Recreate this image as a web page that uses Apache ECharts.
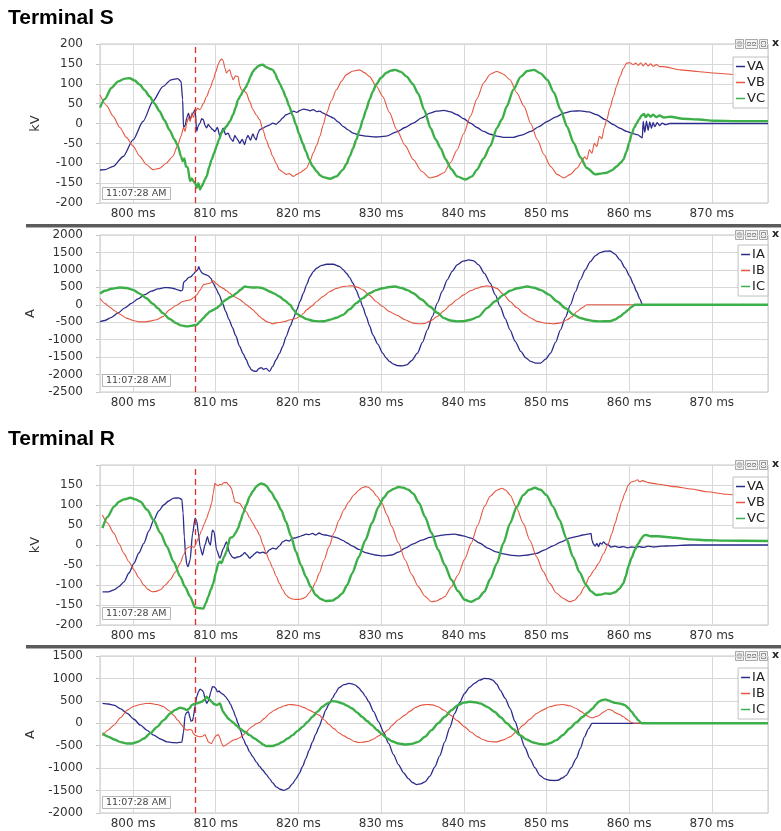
<!DOCTYPE html>
<html><head><meta charset="utf-8">
<script src="https://cdn.jsdelivr.net/npm/echarts@6/dist/echarts.min.js"></script>
<style>html,body{margin:0;padding:0;background:#fff}#c{width:781px;height:831px}</style>
</head><body><div id="c"></div>
<script>
const panelTitles = ['Terminal S', 'Terminal R'];
const timestamp = '11:07:28 AM';
const faultMs = 807.5;
const timeRange = [796, 876.8];
const vNames = ['VA', 'VB', 'VC'];
const iNames = ['IA', 'IB', 'IC'];

// Terminal S voltages (kV) [ms, value]
const S_VA = [[796.0,-117],[796.6,-116],[797.6,-108],[798.8,-83],[800.0,-41],[801.2,5],[802.4,56],[803.6,93],[804.6,110],[805.4,113],[805.8,106],[806.0,60],[806.1,-10],[806.3,-5],[806.5,15],[806.7,26],[806.9,10],[807.1,20],[807.3,28],[807.5,35],[807.7,-20],[807.9,-5],[808.1,1],[808.3,12],[808.5,10],[808.7,-5],[808.9,-11],[809.1,-2],[809.3,-8],[809.6,-15],[809.9,-20],[810.2,-10],[810.5,-32],[810.7,-20],[810.9,-12],[811.2,-28],[811.5,-24],[811.8,-38],[812.1,-45],[812.3,-30],[812.5,-36],[812.7,-42],[812.9,-50],[813.2,-40],[813.5,-53],[813.7,-38],[813.9,-30],[814.2,-42],[814.5,-26],[814.7,-36],[814.9,-41],[815.1,-25],[815.3,-16],[815.7,-12],[816.1,-7],[816.5,-4],[816.9,1],[817.3,-2],[817.7,5],[818.1,14],[818.5,22],[819.0,26],[819.4,31],[819.8,28],[820.2,33],[820.6,36],[821.0,35],[821.4,32],[821.8,35],[822.2,30],[822.6,31],[823.0,26],[823.4,22],[823.8,18],[824.2,14],[824.8,4],[825.4,-7],[826.0,-16],[826.6,-24],[827.4,-29],[828.2,-32],[829.4,-34],[830.6,-32],[831.9,-21],[832.9,-10],[833.9,1],[834.9,14],[835.9,26],[836.7,31],[837.6,33],[838.4,29],[839.2,22],[840.0,12],[840.8,1],[841.6,-10],[842.4,-20],[843.2,-27],[844.0,-32],[845.0,-35],[846.0,-35],[847.0,-29],[848.1,-20],[849.1,-8],[850.1,5],[851.1,16],[852.1,26],[853.1,31],[854.1,32],[855.1,29],[856.1,22],[857.1,10],[858.1,-3],[858.9,-12],[859.7,-20],[860.4,-25],[861.0,-28],[861.6,-36],[861.7,5],[861.9,-22],[862.1,6],[862.3,-17],[862.5,4],[862.7,-12],[862.9,3],[863.1,-8],[863.4,2],[863.7,-5],[864.0,1],[864.4,-3],[864.9,0],[870.0,0],[876.8,0]];
const S_VB = [[796.0,72],[796.8,45],[797.6,18],[798.4,-10],[799.2,-35],[800.0,-57],[800.8,-82],[801.6,-103],[802.4,-116],[803.2,-113],[804.0,-100],[804.8,-83],[805.4,-55],[805.8,-32],[806.1,-10],[806.3,-20],[806.5,1],[806.7,15],[806.9,5],[807.1,26],[807.3,15],[807.5,30],[807.8,38],[808.1,35],[808.5,50],[808.9,68],[809.3,88],[809.7,110],[810.0,130],[810.3,148],[810.5,158],[810.7,162],[810.9,158],[811.1,140],[811.3,127],[811.5,132],[811.7,135],[811.9,120],[812.1,110],[812.4,120],[812.7,118],[812.9,95],[813.1,85],[813.4,82],[813.7,77],[814.1,55],[814.5,35],[814.9,22],[815.3,10],[815.7,-15],[816.1,-41],[816.5,-62],[816.9,-83],[817.3,-100],[817.7,-116],[818.1,-122],[818.5,-128],[818.9,-126],[819.4,-133],[819.8,-128],[820.2,-124],[820.6,-118],[821.0,-112],[821.4,-95],[821.8,-74],[822.2,-55],[822.6,-32],[823.0,-3],[823.4,26],[824.0,58],[824.6,85],[825.2,106],[825.8,123],[826.6,132],[827.4,135],[828.0,128],[828.6,118],[829.4,95],[830.2,68],[831.0,28],[831.9,-16],[832.9,-55],[833.9,-91],[834.9,-120],[835.9,-137],[836.7,-133],[837.6,-124],[838.4,-98],[839.2,-66],[840.0,-25],[840.8,18],[841.6,62],[842.4,102],[843.2,124],[844.0,131],[844.8,124],[845.6,110],[846.4,78],[847.3,43],[848.1,0],[848.9,-41],[849.7,-78],[850.5,-108],[851.3,-128],[852.1,-137],[852.9,-128],[853.7,-112],[854.3,-95],[854.6,-84],[854.9,-90],[855.2,-66],[855.5,-75],[855.8,-50],[856.1,-58],[856.4,-32],[856.7,-38],[857.0,-10],[857.3,10],[857.7,40],[858.1,68],[858.5,95],[858.9,118],[859.3,138],[859.7,152],[860.1,153],[860.5,148],[860.8,152],[861.1,146],[861.4,153],[861.7,145],[862.0,152],[862.3,145],[862.6,150],[862.9,144],[863.3,148],[863.7,143],[864.2,143],[866.2,135],[868.2,131],[870.2,127],[872.7,123],[876.8,118]];
const S_VC = [[796.0,40],[796.6,62],[797.4,90],[798.2,106],[799.0,113],[799.6,114],[800.2,108],[800.8,98],[801.4,84],[802.0,68],[802.6,50],[803.2,31],[803.8,8],[804.4,-16],[805.0,-40],[805.4,-55],[805.8,-83],[806.0,-95],[806.2,-88],[806.4,-108],[806.6,-110],[806.9,-145],[807.1,-138],[807.3,-145],[807.5,-150],[807.7,-162],[807.9,-150],[808.1,-166],[808.3,-158],[808.5,-150],[808.7,-140],[808.9,-133],[809.2,-110],[809.5,-91],[809.8,-75],[810.1,-57],[810.4,-40],[810.7,-24],[811.0,-15],[811.3,-7],[811.7,5],[812.1,22],[812.4,40],[812.7,60],[813.0,70],[813.3,81],[813.6,90],[813.9,102],[814.2,118],[814.5,131],[814.8,138],[815.1,144],[815.4,147],[815.7,148],[816.0,143],[816.3,140],[816.6,137],[816.9,135],[817.2,125],[817.5,110],[817.8,98],[818.1,85],[818.5,65],[818.9,43],[819.3,20],[819.7,-3],[820.1,-27],[820.5,-49],[820.9,-70],[821.3,-91],[821.7,-107],[822.2,-120],[822.6,-130],[823.0,-135],[823.8,-139],[824.6,-133],[825.4,-116],[825.8,-102],[826.2,-83],[826.6,-63],[827.0,-41],[827.4,-16],[827.8,10],[828.2,35],[828.6,60],[829.0,80],[829.4,98],[830.0,115],[830.6,127],[831.2,133],[831.7,135],[832.4,130],[833.1,118],[833.8,100],[834.5,75],[835.2,35],[836.0,-12],[836.6,-40],[837.2,-62],[837.8,-90],[838.5,-115],[839.2,-133],[840.2,-141],[841.0,-133],[841.6,-116],[842.4,-88],[843.2,-57],[844.0,-12],[844.6,10],[845.2,43],[846.0,85],[846.9,118],[847.7,132],[848.5,135],[849.3,126],[850.1,110],[850.9,78],[851.7,35],[852.5,-8],[853.3,-49],[854.1,-85],[854.9,-112],[855.9,-128],[856.6,-126],[857.3,-124],[857.9,-118],[858.5,-108],[859.0,-98],[859.3,-91],[859.7,-70],[860.0,-49],[860.3,-28],[860.6,-11],[860.9,0],[861.2,10],[861.5,20],[861.8,24],[862.0,16],[862.3,23],[862.6,17],[862.9,22],[863.3,16],[863.7,20],[864.2,15],[865.0,17],[866.5,12],[868.5,10],[870.2,7],[873.0,6],[876.8,6]];

// Terminal S currents (A)
const S_IA = [[796.0,-480],[796.6,-450],[797.4,-360],[798.2,-230],[799.0,-90],[799.8,40],[800.6,170],[801.4,290],[802.2,390],[803.0,455],[803.8,490],[804.4,488],[805.0,460],[805.4,430],[805.8,400],[806.0,420],[806.1,640],[806.4,700],[806.7,780],[807.0,800],[807.3,880],[807.6,960],[807.8,1000],[807.95,1090],[808.1,1000],[808.3,920],[808.5,890],[808.8,860],[809.1,830],[809.4,760],[809.7,620],[810.0,480],[810.4,300],[810.8,60],[811.2,-190],[811.6,-420],[812.0,-640],[812.4,-880],[812.9,-1195],[813.3,-1400],[813.7,-1576],[814.0,-1750],[814.3,-1862],[814.6,-1900],[814.9,-1910],[815.2,-1830],[815.5,-1800],[815.8,-1850],[816.1,-1820],[816.5,-1910],[816.9,-1760],[817.3,-1576],[817.7,-1400],[818.1,-1195],[818.5,-920],[819.0,-622],[819.4,-390],[819.8,-145],[820.2,100],[820.6,332],[821.0,580],[821.4,809],[821.8,950],[822.2,1047],[822.8,1130],[823.4,1161],[824.2,1161],[825.0,1094],[825.4,1010],[825.8,903],[826.2,780],[826.6,617],[827.0,410],[827.4,189],[827.8,-70],[828.2,-335],[828.6,-600],[829.0,-861],[829.6,-1130],[830.2,-1385],[830.6,-1520],[831.0,-1624],[831.5,-1700],[832.0,-1745],[832.6,-1750],[833.1,-1725],[833.7,-1600],[834.4,-1385],[835.0,-1080],[835.6,-718],[836.2,-340],[836.8,46],[837.4,390],[838.0,713],[838.6,960],[839.2,1142],[839.9,1250],[840.6,1285],[841.2,1260],[841.8,1142],[842.5,900],[843.2,617],[843.8,290],[844.4,-50],[845.0,-390],[845.6,-718],[846.2,-1040],[846.9,-1337],[847.5,-1520],[848.1,-1624],[848.7,-1670],[849.3,-1671],[849.9,-1560],[850.5,-1385],[851.1,-1080],[851.7,-718],[852.3,-360],[852.9,0],[853.5,370],[854.1,713],[854.7,1000],[855.3,1237],[855.9,1400],[856.5,1494],[857.1,1535],[857.7,1542],[858.3,1450],[858.9,1285],[859.5,1060],[860.1,809],[860.5,600],[860.9,380],[861.3,170],[861.6,0],[876.8,0]];
const S_IB = [[796.0,180],[796.6,40],[797.2,-70],[797.8,-180],[798.4,-270],[799.2,-383],[800.0,-450],[800.8,-490],[801.4,-490],[802.2,-460],[802.8,-431],[803.6,-340],[804.4,-145],[805.2,-20],[806.0,95],[806.5,120],[806.9,140],[807.3,200],[807.7,284],[808.1,420],[808.5,570],[808.9,600],[809.3,617],[809.7,684],[810.1,600],[810.5,522],[810.9,470],[811.3,408],[811.7,330],[812.1,255],[812.5,200],[812.9,150],[813.3,80],[813.7,0],[814.1,-70],[814.5,-145],[814.9,-240],[815.3,-335],[815.7,-410],[816.1,-477],[816.5,-510],[816.9,-546],[817.3,-520],[817.7,-510],[818.3,-480],[819.0,-431],[819.6,-400],[820.2,-335],[820.6,-250],[821.0,-145],[821.6,-40],[822.2,93],[823.0,240],[823.8,380],[824.6,470],[825.4,522],[826.0,540],[826.6,541],[827.2,500],[827.8,427],[828.6,270],[829.4,93],[830.2,-50],[831.0,-193],[831.9,-300],[832.9,-430],[833.9,-526],[834.6,-545],[835.2,-540],[836.0,-460],[836.8,-335],[837.6,-170],[838.4,0],[839.2,150],[840.0,284],[840.8,400],[841.6,474],[842.2,520],[842.8,541],[843.4,520],[844.0,470],[844.8,300],[845.6,93],[846.4,-80],[847.3,-260],[848.1,-380],[848.9,-477],[849.9,-530],[850.9,-546],[851.7,-520],[852.5,-431],[853.1,-340],[853.7,-193],[854.3,-90],[854.9,0],[876.8,0]];
const S_IC = [[796.0,320],[796.6,400],[797.4,460],[798.4,494],[799.2,480],[800.0,427],[800.8,320],[801.6,189],[802.4,30],[803.0,-100],[803.6,-240],[804.4,-400],[805.2,-526],[805.8,-590],[806.5,-620],[807.1,-600],[807.7,-574],[808.1,-480],[808.5,-383],[808.9,-280],[809.3,-193],[809.7,-150],[810.1,-97],[810.5,-20],[810.9,93],[811.3,150],[811.7,217],[812.1,260],[812.5,332],[813.0,430],[813.5,522],[814.0,505],[814.5,494],[815.1,500],[815.7,474],[816.1,430],[816.5,380],[817.1,320],[817.7,236],[818.3,130],[819.0,0],[819.4,-140],[819.8,-259],[820.4,-340],[821.0,-412],[821.8,-460],[822.6,-477],[823.2,-470],[823.8,-431],[824.6,-370],[825.4,-288],[826.2,-130],[827.0,46],[827.8,190],[828.6,332],[829.4,420],[830.2,474],[831.0,510],[831.7,522],[832.5,480],[833.2,420],[833.9,332],[834.9,150],[835.9,-50],[836.8,-230],[837.6,-383],[838.4,-450],[839.2,-477],[840.0,-470],[840.8,-431],[841.8,-340],[842.8,-97],[843.8,100],[844.8,284],[845.6,400],[846.5,474],[847.7,522],[848.5,490],[849.3,427],[850.3,290],[851.3,93],[852.3,-100],[853.3,-288],[854.1,-380],[854.9,-431],[855.7,-465],[856.5,-477],[857.7,-470],[858.3,-420],[858.9,-335],[859.4,-240],[859.9,-145],[860.3,-60],[860.7,0],[876.8,0]];

// Terminal R voltages (kV)
const R_VA = [[796.3,-117],[797.0,-117],[797.7,-112],[798.3,-104],[798.9,-92],[799.5,-70],[800.1,-46],[800.7,-20],[801.3,4],[801.9,35],[802.5,62],[803.1,85],[803.7,100],[804.3,110],[804.9,117],[805.5,118],[805.9,114],[806.05,80],[806.2,20],[806.35,-25],[806.5,-48],[806.65,-54],[806.9,-37],[807.2,29],[807.5,67],[807.7,60],[807.9,30],[808.1,-4],[808.4,-25],[808.7,0],[809.0,21],[809.2,5],[809.35,0],[809.6,37],[809.8,33],[810.1,-12],[810.5,-33],[810.9,-10],[811.3,8],[811.7,-21],[812.0,-30],[812.3,-33],[812.6,-30],[812.9,-29],[813.2,-25],[813.5,-19],[813.8,-25],[814.1,-33],[814.4,-28],[814.7,-22],[815.0,-17],[815.3,-20],[815.7,-18],[816.1,-21],[816.5,-12],[816.9,-8],[817.3,-10],[817.7,-2],[818.1,8],[818.5,12],[818.9,10],[819.3,17],[819.7,18],[820.1,21],[820.5,24],[820.9,27],[821.3,26],[821.7,29],[822.1,25],[822.5,30],[822.9,26],[823.3,25],[823.7,23],[824.1,21],[824.7,18],[825.3,12],[825.9,5],[826.5,-2],[827.3,-11],[828.1,-19],[828.7,-22],[829.3,-25],[830.0,-27],[830.5,-27],[831.3,-25],[832.1,-18],[832.9,-8],[833.9,3],[834.9,12],[835.9,19],[836.9,23],[837.9,26],[838.9,27],[839.9,23],[840.9,17],[841.9,5],[842.9,-8],[843.9,-17],[844.8,-22],[845.8,-26],[846.8,-27],[847.8,-25],[848.8,-21],[849.8,-12],[850.8,-2],[851.8,8],[852.8,17],[853.6,21],[854.4,25],[855.0,27],[855.4,29],[855.5,12],[855.7,2],[855.9,-3],[856.1,4],[856.3,-4],[856.5,5],[856.7,2],[856.9,8],[857.2,2],[857.5,0],[857.8,-5],[858.3,-3],[858.8,-6],[859.3,-4],[859.8,-7],[860.3,-5],[860.7,-6],[861.2,-4],[861.7,-6],[862.3,-3],[863.0,-5],[863.9,-3],[865.0,-2],[867.4,0],[876.8,0]];
const R_VB = [[796.3,75],[796.9,55],[797.7,29],[798.3,3],[798.9,-21],[799.5,-42],[800.1,-62],[800.7,-82],[801.3,-100],[801.8,-111],[802.3,-117],[802.8,-116],[803.3,-112],[803.9,-100],[804.5,-87],[805.1,-68],[805.7,-46],[806.1,-25],[806.5,-8],[806.8,-5],[807.1,-4],[807.4,-6],[807.7,8],[808.0,22],[808.3,37],[808.6,52],[808.9,67],[809.2,85],[809.5,104],[809.7,130],[809.9,154],[810.1,150],[810.3,148],[810.5,152],[810.7,150],[810.9,155],[811.1,156],[811.3,156],[811.6,150],[811.9,142],[812.1,125],[812.3,108],[812.6,106],[812.9,104],[813.3,92],[813.7,83],[814.1,68],[814.5,54],[814.9,40],[815.3,25],[815.7,2],[816.1,-21],[816.5,-40],[816.9,-58],[817.3,-78],[817.7,-96],[818.1,-112],[818.5,-125],[818.9,-132],[819.3,-135],[819.7,-136],[820.1,-136],[820.5,-134],[820.9,-130],[821.3,-120],[821.7,-108],[822.1,-92],[822.5,-71],[823.1,-38],[823.7,-4],[824.3,30],[824.9,62],[825.5,88],[826.1,108],[826.7,125],[827.3,137],[827.7,143],[828.1,146],[828.5,144],[828.9,137],[829.5,122],[830.1,104],[830.7,76],[831.3,46],[832.1,5],[832.9,-37],[833.7,-74],[834.5,-104],[835.3,-128],[836.1,-142],[836.7,-140],[837.3,-134],[837.7,-129],[838.5,-105],[839.3,-75],[840.1,-36],[840.9,4],[841.7,50],[842.5,96],[843.2,122],[844.0,137],[844.6,142],[845.1,137],[845.6,125],[846.4,92],[847.2,54],[848.0,12],[848.8,-29],[849.6,-66],[850.4,-96],[851.2,-120],[852.0,-133],[852.8,-142],[853.4,-138],[854.0,-125],[854.6,-105],[855.2,-79],[855.8,-62],[856.3,-46],[856.9,-22],[857.5,4],[857.9,28],[858.3,54],[858.7,82],[859.1,108],[859.5,130],[859.9,150],[860.3,158],[860.7,160],[861.0,163],[861.3,158],[861.6,161],[862.3,156],[863.5,152],[865.5,146],[867.5,140],[869.4,133],[871.8,127],[873.8,123],[876.8,119]];
const R_VC = [[796.3,42],[796.9,70],[797.7,96],[798.3,108],[798.9,114],[799.7,118],[800.3,114],[800.9,108],[801.7,88],[802.5,62],[803.3,30],[804.1,-4],[804.9,-42],[805.7,-79],[806.3,-105],[806.9,-129],[807.5,-156],[808.1,-158],[808.5,-159],[808.8,-145],[809.1,-129],[809.4,-112],[809.7,-96],[810.0,-70],[810.3,-46],[810.5,-42],[810.7,-45],[811.0,-30],[811.3,-17],[811.5,0],[811.7,17],[811.9,19],[812.1,21],[812.4,30],[812.7,42],[813.0,60],[813.3,79],[813.7,100],[814.1,121],[814.5,135],[814.9,146],[815.2,151],[815.5,154],[815.8,152],[816.1,148],[816.7,132],[817.3,112],[817.9,88],[818.5,58],[819.1,22],[819.7,-17],[820.3,-50],[820.9,-79],[821.5,-105],[822.1,-125],[822.7,-135],[823.3,-140],[824.1,-139],[824.7,-132],[825.3,-121],[825.9,-100],[826.5,-71],[827.3,-30],[828.1,12],[828.9,55],[829.7,96],[830.3,118],[830.9,133],[831.5,140],[832.1,145],[832.7,143],[833.3,138],[833.9,128],[834.6,105],[835.3,71],[836.1,30],[836.9,-12],[837.7,-50],[838.5,-87],[839.3,-115],[840.1,-137],[840.9,-142],[841.7,-134],[842.5,-117],[843.2,-85],[844.0,-46],[844.8,5],[845.6,54],[846.4,95],[847.2,125],[847.9,138],[848.6,143],[849.3,138],[850.0,125],[850.8,96],[851.6,62],[852.4,17],[853.2,-29],[854.0,-68],[854.8,-100],[855.4,-116],[856.0,-125],[856.6,-124],[857.1,-121],[857.7,-122],[858.3,-118],[858.8,-110],[859.3,-96],[859.6,-78],[859.9,-54],[860.3,-32],[860.7,-12],[861.1,3],[861.5,17],[861.8,24],[862.1,25],[862.6,22],[863.5,22],[865.5,18],[867.4,14],[869.4,12],[871.4,11],[876.8,10]];

// Terminal R currents (A)
const R_IA = [[796.3,445],[797.0,430],[797.7,405],[798.5,320],[799.3,219],[800.1,90],[800.9,-42],[801.7,-160],[802.5,-265],[803.3,-350],[804.1,-414],[804.7,-430],[805.3,-436],[805.9,-420],[806.1,-200],[806.3,182],[806.5,240],[806.7,257],[806.9,120],[807.0,48],[807.2,60],[807.3,150],[807.5,380],[807.7,592],[807.9,700],[808.1,763],[808.3,740],[808.5,703],[808.7,560],[808.9,443],[809.1,500],[809.2,560],[809.4,700],[809.6,815],[809.8,810],[810.0,778],[810.2,700],[810.4,720],[810.6,680],[810.9,644],[811.2,590],[811.5,517],[811.8,420],[812.1,294],[812.4,150],[812.7,-5],[813.0,-170],[813.3,-340],[813.7,-490],[814.1,-638],[814.5,-750],[814.9,-861],[815.3,-960],[815.7,-1047],[816.1,-1140],[816.5,-1233],[816.9,-1330],[817.3,-1419],[817.8,-1470],[818.3,-1494],[818.8,-1450],[819.3,-1345],[819.7,-1240],[820.1,-1121],[820.5,-960],[820.9,-786],[821.3,-600],[821.7,-414],[822.1,-240],[822.5,-79],[822.9,110],[823.3,294],[823.7,430],[824.1,554],[824.5,680],[824.9,792],[825.5,860],[826.1,889],[826.5,880],[826.9,850],[827.3,790],[827.7,703],[828.1,600],[828.5,480],[829.1,260],[829.7,33],[830.3,-200],[830.9,-442],[831.5,-700],[832.1,-920],[832.7,-1100],[833.3,-1233],[833.8,-1320],[834.3,-1367],[834.8,-1350],[835.3,-1308],[835.9,-1180],[836.5,-973],[837.1,-720],[837.7,-414],[838.3,-100],[838.9,219],[839.5,460],[840.1,664],[840.7,800],[841.3,889],[841.9,960],[842.5,1000],[843.0,995],[843.5,963],[844.0,870],[844.4,740],[845.0,560],[845.6,331],[846.2,40],[846.8,-265],[847.4,-540],[848.0,-786],[848.6,-990],[849.2,-1159],[849.8,-1240],[850.4,-1270],[851.0,-1275],[851.4,-1270],[851.9,-1220],[852.4,-1159],[853.0,-990],[853.6,-786],[854.1,-560],[854.6,-302],[855.1,-120],[855.5,0],[876.8,0]];
const R_IB = [[796.3,-280],[796.9,-160],[797.7,-42],[798.5,130],[799.3,294],[800.1,380],[800.9,420],[801.5,440],[802.1,443],[802.9,420],[803.7,368],[804.3,290],[804.9,182],[805.4,70],[805.9,-42],[806.2,-120],[806.5,-153],[806.8,-140],[807.1,-150],[807.3,-230],[807.5,-265],[807.8,-290],[808.1,-302],[808.4,-290],[808.7,-250],[808.9,-330],[809.1,-414],[809.3,-440],[809.5,-451],[809.7,-380],[809.9,-305],[810.1,-270],[810.3,-250],[810.5,-320],[810.7,-440],[810.9,-510],[811.2,-490],[811.5,-451],[811.8,-410],[812.1,-376],[812.4,-360],[812.7,-340],[813.0,-310],[813.3,-265],[813.7,-190],[814.1,-116],[814.5,-60],[814.9,-10],[815.3,16],[815.9,110],[816.5,219],[817.1,290],[817.7,346],[818.3,390],[818.9,420],[819.5,410],[820.1,391],[820.7,350],[821.3,294],[821.9,240],[822.5,182],[823.1,80],[823.7,-27],[824.3,-120],[824.9,-213],[825.5,-280],[826.1,-340],[826.7,-400],[827.3,-429],[827.9,-420],[828.5,-399],[829.1,-350],[829.7,-280],[830.3,-220],[830.9,-140],[831.3,-50],[832.1,80],[832.9,182],[833.5,270],[834.1,346],[834.8,400],[835.5,420],[836.2,410],[836.9,368],[837.6,290],[838.4,182],[839.2,60],[840.1,-79],[840.9,-200],[841.7,-302],[842.3,-360],[842.9,-399],[843.5,-414],[844.0,-414],[844.8,-370],[845.6,-302],[846.4,-180],[847.2,-42],[848.0,90],[848.8,219],[849.6,300],[850.4,368],[851.2,405],[852.0,420],[852.8,390],[853.6,331],[854.2,260],[854.8,182],[855.2,140],[855.6,122],[856.0,150],[856.3,167],[856.9,250],[857.5,313],[857.9,290],[858.3,238],[858.8,200],[859.3,145],[859.8,80],[860.3,16],[860.7,0],[876.8,0]];
const R_IC = [[796.3,-220],[797.0,-300],[797.7,-360],[798.5,-420],[799.3,-450],[799.9,-451],[800.6,-410],[801.3,-340],[802.1,-220],[802.9,-79],[803.7,70],[804.5,219],[805.1,300],[805.7,346],[806.1,330],[806.5,294],[806.8,330],[807.1,405],[807.4,430],[807.7,443],[808.0,460],[808.3,480],[808.6,520],[808.9,592],[809.2,540],[809.5,480],[809.8,430],[810.1,405],[810.5,440],[810.9,257],[811.2,180],[811.5,107],[811.8,60],[812.1,18],[812.5,-50],[812.9,-116],[813.5,-190],[814.1,-265],[814.7,-340],[815.3,-414],[815.7,-470],[816.1,-510],[816.5,-505],[816.9,-505],[817.5,-470],[818.1,-414],[818.7,-340],[819.3,-265],[819.9,-170],[820.5,-79],[821.1,30],[821.7,145],[822.3,260],[822.9,368],[823.5,440],[824.1,495],[824.7,480],[825.3,443],[825.9,390],[826.5,331],[827.1,240],[827.7,145],[828.3,50],[828.9,-42],[829.5,-150],[830.1,-240],[830.7,-330],[831.3,-399],[832.1,-450],[832.9,-473],[833.7,-460],[834.5,-414],[835.3,-300],[836.1,-153],[836.9,0],[837.7,145],[838.5,290],[839.3,405],[840.0,460],[840.7,480],[841.4,470],[842.0,443],[842.9,360],[843.7,257],[844.5,130],[845.2,0],[846.0,-130],[846.8,-265],[847.6,-360],[848.4,-429],[849.1,-460],[849.8,-473],[850.5,-440],[851.2,-376],[852.0,-260],[852.8,-116],[853.6,20],[854.4,145],[855.0,240],[855.6,331],[856.0,420],[856.3,480],[856.7,515],[857.1,532],[857.5,510],[857.9,480],[858.3,455],[858.7,443],[859.1,430],[859.5,405],[859.9,340],[860.3,257],[860.7,160],[861.1,70],[861.5,0],[876.8,0]];

const colors = ['#2b2b8c', '#e5553f', '#3daf49'];
const widths = [1.3, 1.1, 2.4];
const FONT = 'DejaVu Sans';

const panels = [
  { series: [S_VA, S_VB, S_VC], names: vNames, unit: 'kV', min: -200, max: 200, interval: 50, hideMax: false,
    top: 44, height: 159, legendTop: 57, stampTop: 187, toolTop: 39 },
  { series: [S_IA, S_IB, S_IC], names: iNames, unit: 'A', min: -2500, max: 2000, interval: 500, hideMax: false,
    top: 235, height: 157, legendTop: 245, stampTop: 374, toolTop: 230 },
  { series: [R_VA, R_VB, R_VC], names: vNames, unit: 'kV', min: -200, max: 200, interval: 50, hideMax: true,
    top: 465, height: 160, legendTop: 477, stampTop: 607, toolTop: 460 },
  { series: [R_IA, R_IB, R_IC], names: iNames, unit: 'A', min: -2000, max: 1500, interval: 500, hideMax: false,
    top: 656, height: 157, legendTop: 668, stampTop: 796, toolTop: 651 }
];

function toolbar(y) {
  return [
    { type: 'rect', shape: { x: 735.5, y: y + 0.5, width: 8, height: 9 }, style: { fill: '#f2f2f2', stroke: '#a8a8a8', lineWidth: 1 } },
    { type: 'circle', shape: { cx: 739.5, cy: y + 5, r: 2.6 }, style: { fill: '#c4c4c4', stroke: '#999', lineWidth: 0.6 } },
    { type: 'rect', shape: { x: 745.5, y: y + 0.5, width: 12, height: 9 }, style: { fill: '#f2f2f2', stroke: '#a8a8a8', lineWidth: 1 } },
    { type: 'rect', shape: { x: 747.5, y: y + 3.5, width: 3, height: 3 }, style: { fill: 'none', stroke: '#777', lineWidth: 0.8 } },
    { type: 'rect', shape: { x: 752.5, y: y + 3.5, width: 3, height: 3 }, style: { fill: 'none', stroke: '#777', lineWidth: 0.8 } },
    { type: 'rect', shape: { x: 759.5, y: y + 0.5, width: 8, height: 9 }, style: { fill: '#f2f2f2', stroke: '#a8a8a8', lineWidth: 1 } },
    { type: 'rect', shape: { x: 761.5, y: y + 2.5, width: 4, height: 5 }, style: { fill: 'none', stroke: '#777', lineWidth: 0.8 } },
    { type: 'text', x: 772, y: y - 1, style: { text: 'x', font: 'bold 11px DejaVu Sans', fill: '#222' } }
  ];
}

const option = {
  animation: false,
  backgroundColor: '#ffffff',
  title: [
    { text: panelTitles[0], left: 8, top: 8, padding: 0, textStyle: { fontFamily: 'Liberation Sans', fontWeight: 'bold', fontSize: 21, color: '#000' } },
    { text: panelTitles[1], left: 8, top: 429, padding: 0, textStyle: { fontFamily: 'Liberation Sans', fontWeight: 'bold', fontSize: 21, color: '#000' } }
  ].concat(panels.map(p => ({
    text: timestamp, left: 102, top: p.stampTop, padding: [2, 4, 1, 4],
    borderColor: '#b5b5b5', borderWidth: 1, backgroundColor: '#fff', z: 10,
    textStyle: { fontFamily: FONT, fontWeight: 'normal', fontSize: 9.5, color: '#444' }
  }))),
  grid: panels.map(p => ({
    left: 100, right: 13, top: p.top, height: p.height,
    show: true, borderColor: '#c6c6c6', borderWidth: 1, backgroundColor: '#fff'
  })),
  legend: panels.map(p => ({
    data: p.names, orient: 'vertical', right: 13, top: p.legendTop,
    backgroundColor: '#fff', borderColor: '#c0c0c0', borderWidth: 1,
    padding: [3, 3, 3, 3], itemGap: 3, itemWidth: 9, itemHeight: 1.5, icon: 'rect',
    selectedMode: false, z: 8,
    textStyle: { fontFamily: FONT, fontSize: 13, color: '#222', padding: [0, 0, 0, -3] }
  })),
  xAxis: panels.map((p, i) => ({
    type: 'value', gridIndex: i, min: timeRange[0], max: timeRange[1],
    splitNumber: 8, minInterval: 10, maxInterval: 10,
    axisLine: { show: false }, axisTick: { show: false },
    splitLine: { show: true, lineStyle: { color: '#d8d8d8', width: 1 } },
    axisLabel: { showMinLabel: false, showMaxLabel: false, margin: 5, fontFamily: FONT, fontSize: 12, color: '#333',
      formatter: v => v + ' ms' }
  })),
  yAxis: panels.map((p, i) => ({
    type: 'value', gridIndex: i, min: p.min, max: p.max, interval: p.interval,
    name: p.unit, nameLocation: 'middle', nameGap: 58, nameRotate: 90,
    nameTextStyle: { fontFamily: FONT, fontSize: 13, color: '#333' },
    axisLine: { show: false },
    axisTick: { show: true, length: 4, lineStyle: { color: '#c6c6c6' } },
    splitLine: { show: true, lineStyle: { color: '#d8d8d8', width: 1 } },
    axisLabel: { margin: 17, fontFamily: FONT, fontSize: 12, color: '#333',
      formatter: v => (p.hideMax && v === p.max) ? '' : String(v) }
  })),
  graphic: [
    { type: 'rect', shape: { x: 26, y: 224, width: 755, height: 3 }, style: { fill: '#5b5b5b' }, silent: true },
    { type: 'rect', shape: { x: 26, y: 227, width: 755, height: 1 }, style: { fill: '#b0b0b0' }, silent: true },
    { type: 'rect', shape: { x: 26, y: 645, width: 755, height: 3 }, style: { fill: '#5b5b5b' }, silent: true },
    { type: 'rect', shape: { x: 26, y: 648, width: 755, height: 1 }, style: { fill: '#b0b0b0' }, silent: true }
  ].concat(...panels.map(p => toolbar(p.toolTop))),
  series: []
};

panels.forEach((p, i) => {
  p.series.forEach((data, k) => {
    const s = {
      type: 'line', name: p.names[k], xAxisIndex: i, yAxisIndex: i, data: data,
      showSymbol: false, symbol: 'none', smooth: 0.25, smoothMonotone: 'x',
      lineStyle: { color: colors[k], width: widths[k] }, itemStyle: { color: colors[k] },
      z: 2 + k
    };
    if (k === 0) {
      s.markLine = {
        silent: true, symbol: ['none', 'none'], label: { show: false },
        lineStyle: { color: '#e0302a', type: [6, 4], width: 1.3 },
        data: [{ xAxis: faultMs }]
      };
    }
    option.series.push(s);
  });
});

const chart = echarts.init(document.getElementById('c'), null, { renderer: 'canvas' });
chart.setOption(option);
</script>
</body></html>
